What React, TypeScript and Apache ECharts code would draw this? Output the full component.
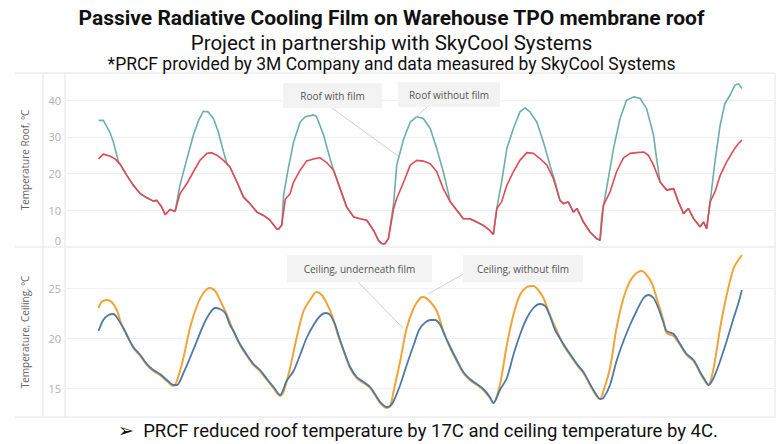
import React, { useEffect, useRef } from "react";
import * as echarts from "echarts";

// hours since start of measurement, temperature in °C
const roofWithFilm: [number, number][] = [[0.1,24],[1.2,25.3],[2.8,24.7],[3.9,24],[5.1,22.5],[6.6,19.5],[8.1,16.8],[9.7,14.5],[11.2,13.4],[12.7,12.5],[13.5,12.7],[14.6,10.9],[15.4,8.8],[16.5,10.2],[17.7,9.7],[18.8,14.5],[20.4,17.3],[21.9,20.5],[23.4,23.6],[25.0,25.5],[26.1,25.7],[27.3,25],[28.8,23.6],[30.3,21.8],[31.9,17.7],[33.4,13.6],[34.9,11.8],[36.5,9.5],[38.0,8.6],[39.5,7.3],[41.0,5],[41.4,4.8],[42.2,6],[43.0,13],[44.1,14.5],[44.9,17.7],[46.4,20.9],[47.9,23.4],[49.5,24],[51.0,24.3],[52.5,23],[54.1,20.9],[55.6,15.9],[57.1,10.9],[58.7,8.2],[60.2,7.7],[61.7,7.3],[63.3,4.5],[64.4,1.8],[65.2,0.9],[65.9,0.9],[66.7,2.3],[67.9,10.5],[68.6,13.2],[70.2,17.7],[71.7,22.3],[73.2,23.6],[74.7,23.4],[76.3,22.7],[77.8,20.5],[79.3,15.9],[80.9,12.3],[82.4,10],[83.9,7.7],[85.4,7.7],[87.0,6.8],[88.5,5.9],[90.0,4.5],[90.8,3.4],[91.6,10.5],[92.7,12.3],[93.9,16.8],[95.4,20.5],[96.9,23.6],[98.5,25.7],[100.0,25.5],[101.5,24.1],[103.1,22.3],[104.6,18.6],[106.1,12.7],[106.9,11.8],[108.0,12.3],[109.2,9.5],[110.0,10.5],[111.5,6.8],[113.0,4.1],[114.5,2.3],[115.3,1.8],[116.1,11.4],[117.6,15],[119.1,20.5],[120.7,24.3],[122.2,25.5],[123.7,25.7],[125.3,25.9],[126.4,25],[127.6,22.3],[129.1,17.7],[130.6,15.5],[132.2,15.9],[133.3,12.3],[134.5,9.1],[135.6,10.5],[136.8,7.7],[138.3,5.5],[139.1,6.8],[139.8,5],[140.6,12.3],[141.7,15],[142.9,19.5],[144.4,23.2],[146.0,26.4],[147.1,28.2],[147.9,29.1]];

const roofWithoutFilm: [number, number][] = [[0.1,34.5],[1.2,34.5],[2.8,31],[3.5,28.6],[4.7,23.2],[5.1,22.5],[6.6,19.5],[8.1,16.8],[9.7,14.5],[11.2,13.4],[12.7,12.5],[13.5,12.7],[14.6,10.9],[15.4,8.8],[16.5,10.2],[17.7,9.7],[18.8,16.8],[20.4,24],[21.9,30.5],[23.1,34.5],[24.2,37],[25.3,36.8],[26.5,35],[27.6,31.4],[28.8,26],[29.6,22.7],[30.3,21.8],[31.9,17.7],[33.4,13.6],[34.9,11.8],[36.5,9.5],[38.0,8.6],[39.5,7.3],[41.0,5],[41.4,4.8],[42.2,6],[42.6,14],[43.7,21.4],[44.9,28.6],[46.4,34],[47.6,35.5],[49.5,36],[50.2,35.5],[51.8,30.5],[53.3,24],[54.1,20.9],[55.6,15.9],[57.1,10.9],[58.7,8.2],[60.2,7.7],[61.7,7.3],[63.3,4.5],[64.4,1.8],[65.2,0.9],[65.9,0.9],[66.7,2.3],[67.9,12],[68.6,22.3],[70.2,29.5],[71.7,34],[73.2,35.5],[74.7,35],[76.3,32.3],[77.8,26.8],[79.3,20.5],[80.1,16.5],[80.9,12.3],[82.4,10],[83.9,7.7],[85.4,7.7],[87.0,6.8],[88.5,5.9],[90.0,4.5],[90.8,3.4],[91.6,10.5],[92.7,17.7],[93.9,26.8],[95.4,32.3],[96.9,36.8],[98.1,37.9],[99.2,36.8],[100.8,34],[102.3,28.6],[103.8,22.3],[105.0,17.7],[106.1,12.7],[106.9,11.8],[108.0,12.3],[109.2,9.5],[110.0,10.5],[111.5,6.8],[113.0,4.1],[114.5,2.3],[115.3,1.8],[115.7,8.6],[116.8,15.9],[118.4,26.8],[119.9,35],[121.4,40],[123.0,40.9],[124.5,40.5],[126.0,37.7],[127.6,30.5],[128.3,24.1],[129.1,17.7],[130.6,15.5],[132.2,15.9],[133.3,12.3],[134.5,9.1],[135.6,10.5],[136.8,7.7],[138.3,5.5],[139.1,6.8],[139.8,5],[140.6,12.3],[141.7,23.2],[142.9,33.2],[144.0,39.1],[145.2,41.4],[146.3,44.1],[147.1,44.5],[147.9,43.2]];

const ceilingWithoutFilm: [number, number][] = [[0.1,23],[0.8,23.6],[2.0,23.8],[3.1,23.6],[4.3,22.8],[5.4,21.3],[6.6,20.3],[8.1,19],[9.7,18.2],[11.2,17.3],[12.7,16.7],[14.2,16.3],[15.8,15.7],[17.3,15.2],[18.1,15.7],[19.6,18],[21.1,21],[22.7,23.2],[24.2,24.5],[25.7,25],[26.9,24.7],[28.0,23.8],[29.6,22.3],[31.1,20.7],[32.6,19.3],[34.2,18.2],[35.7,17.3],[37.2,16.7],[38.8,15.8],[40.3,15],[41.8,14.2],[42.6,14.6],[44.1,17],[45.6,20],[47.2,22.7],[48.7,23.8],[50.2,24.6],[51.4,24.3],[52.5,23.5],[53.7,22.3],[54.8,20.7],[56.4,18.7],[57.9,17],[59.4,16],[61.0,15.5],[62.5,15],[63.6,14.3],[64.8,13.5],[66.3,13],[67.1,13.2],[67.9,14.7],[69.4,17.7],[70.9,21],[72.5,23],[74.0,24],[74.7,24.1],[75.9,23.8],[77.8,22.7],[79.3,20.7],[80.9,19],[82.4,17.7],[83.9,16.5],[85.4,15.8],[87.0,15.3],[88.5,14.8],[90.0,14],[90.8,13.5],[92.3,15.3],[93.9,19.3],[95.4,22.3],[96.9,24.3],[98.5,25.1],[100.0,25.2],[101.1,24.8],[102.3,24],[103.8,22.3],[105.4,20.7],[106.9,19.3],[108.4,18.3],[110.0,17.3],[111.5,16.5],[113.0,15.3],[114.5,14.2],[115.3,13.9],[116.1,14.7],[117.6,17],[119.1,21],[120.7,24],[122.2,25.7],[123.7,26.5],[124.9,26.7],[126.0,26.3],[127.2,25.5],[128.3,24],[129.9,21.7],[130.6,20.5],[132.2,20.2],[133.7,19.3],[135.2,18.3],[136.8,17.7],[138.3,16.5],[139.4,15.7],[140.2,15.3],[141.4,17],[142.9,21],[144.4,24.3],[146.0,27],[147.1,27.8],[147.9,28.3]];

const ceilingUnderFilm: [number, number][] = [[0.1,20.7],[1.2,21.8],[2.4,22.3],[3.5,22.4],[4.7,21.8],[5.8,21],[6.6,20.3],[8.1,19.1],[9.7,18.3],[11.2,17.4],[12.7,16.8],[14.2,16.4],[15.8,15.8],[17.3,15.3],[18.1,15.3],[19.6,16.5],[21.1,18],[22.7,19.7],[24.2,21.3],[25.7,22.5],[26.9,23],[28.0,22.9],[29.2,22.5],[30.3,21.3],[31.1,20.7],[32.6,19.4],[34.2,18.3],[35.7,17.4],[37.2,16.8],[38.8,15.9],[40.3,15.1],[41.8,14.3],[43.3,15.7],[44.9,16.7],[46.4,18.3],[47.9,20],[49.5,21.3],[51.0,22.2],[52.2,22.5],[53.3,22.3],[54.5,21.3],[55.2,20.3],[56.4,18.8],[57.9,17.1],[59.4,16.1],[61.0,15.6],[62.5,15.1],[63.6,14.4],[64.8,13.6],[66.3,13.1],[67.1,13.2],[67.9,13.7],[69.4,15.3],[70.9,17.3],[72.5,19.3],[74.0,21],[76.3,21.8],[77.4,21.8],[78.6,21.3],[79.7,20.2],[80.9,19.1],[82.4,17.8],[83.9,16.6],[85.4,15.9],[87.0,15.4],[88.5,14.9],[90.0,14.1],[90.8,13.5],[92.3,14.8],[93.9,16],[95.4,18.3],[96.9,20.3],[98.5,22],[100.0,23],[101.5,23.4],[102.7,23.2],[103.8,22.2],[105.0,20.8],[106.9,19.4],[108.4,18.4],[110.0,17.4],[111.5,16.6],[113.0,15.4],[114.5,14.3],[115.3,13.9],[116.1,14],[117.6,15.3],[119.1,17.7],[120.7,19.7],[122.2,21.3],[123.7,22.7],[125.3,24],[126.4,24.3],[127.6,24],[128.7,23],[129.9,21.5],[130.6,20.7],[132.2,20.4],[133.7,19.4],[135.2,18.4],[136.8,17.8],[138.3,16.6],[139.4,15.8],[140.2,15.3],[141.4,16],[142.9,17.7],[144.4,19.7],[146.0,22],[147.1,23.5],[147.9,24.8]];

const titleLines = [
  "Passive Radiative Cooling Film on Warehouse TPO membrane roof",
  "Project in partnership with SkyCool Systems",
  "*PRCF provided by 3M Company and data measured by SkyCool Systems",
];
const footnote = "\u27A2  PRCF reduced roof temperature by 17C and ceiling temperature by 4C.";
const roofAxisName = "Temperature Roof, \u00BAC";
const ceilingAxisName = "Temperature, Ceiling, \u00BAC";
const labels = {
  roofWith: "Roof with film",
  roofWithout: "Roof without film",
  ceilUnder: "Ceiling, underneath film",
  ceilWithout: "Ceiling, without film",
};

const FONT = "Roboto";
const SMALL = "Open Sans";
const frame = "#e4e4e4";

function note(x: number, y: number, w: number, h: number, text: string) {
  return [
    { type: "rect", shape: { x, y, width: w, height: h }, style: { fill: "#f3f3f3" }, z: 10 },
    {
      type: "text", x: x + w / 2, y: y + h / 2, z: 11,
      style: { text, fill: "#555", font: `10px "${SMALL}"`, align: "center", verticalAlign: "middle" },
    },
  ];
}
function leader(x1: number, y1: number, x2: number, y2: number) {
  return { type: "line", shape: { x1, y1, x2, y2 }, style: { stroke: "#cfcfcf", lineWidth: 1 }, z: 9 };
}
function fline(x1: number, y1: number, x2: number, y2: number) {
  return { type: "line", shape: { x1, y1, x2, y2 }, style: { stroke: frame, lineWidth: 1 }, z: 0, silent: true };
}

export default function App() {
  const ref = useRef<HTMLDivElement>(null);
  useEffect(() => {
    document.body.style.margin = "0";
    const chart = echarts.init(ref.current!, null, { renderer: "svg" });
    const tickLabel = { color: "#b0b0b0", fontSize: 11, fontFamily: SMALL, margin: 4 };
    chart.setOption({
      animation: false,
      backgroundColor: "#ffffff",
      title: [
        { text: titleLines[0], left: "center", top: 7, padding: 0, textStyle: { fontFamily: FONT, fontWeight: "bold", fontSize: 21, color: "#111" } },
        { text: titleLines[1], left: "center", top: 32, padding: 0, textStyle: { fontFamily: FONT, fontWeight: "normal", fontSize: 20.5, color: "#111" } },
        { text: titleLines[2], left: "center", top: 55, padding: 0, textStyle: { fontFamily: FONT, fontWeight: "normal", fontSize: 17.5, color: "#111" } },
        { text: footnote, left: 118, top: 421, padding: 0, textStyle: { fontFamily: FONT, fontWeight: "normal", fontSize: 18.5, color: "#111" } },
      ],
      grid: [
        { left: 65, right: 8, top: 73, height: 174 },
        { left: 65, right: 8, top: 247, height: 170 },
      ],
      xAxis: [
        { type: "value", gridIndex: 0, min: -7.6, max: 155.5, show: false },
        { type: "value", gridIndex: 1, min: -7.6, max: 155.5, show: false },
      ],
      yAxis: [
        {
          type: "value", gridIndex: 0, min: 0, max: 47.4, interval: 10,
          name: roofAxisName, nameLocation: "middle", nameGap: 35,
          nameTextStyle: { color: "#666", fontSize: 10, fontFamily: SMALL },
          axisLine: { show: false }, axisTick: { show: false },
          splitLine: { lineStyle: { color: "#f0f0f0" } },
          axisLabel: {
            ...tickLabel,
            formatter: (v: number) => (v === 0 ? "{z|0}" : v % 10 === 0 ? String(v) : ""),
            rich: { z: { color: "#b0b0b0", fontSize: 11, fontFamily: SMALL, padding: [0, 0, 14, 0] } },
          },
        },
        {
          type: "value", gridIndex: 1, min: 12.1, max: 29.1, splitNumber: 3,
          name: ceilingAxisName, nameLocation: "middle", nameGap: 35,
          nameTextStyle: { color: "#666", fontSize: 10, fontFamily: SMALL },
          axisLine: { show: false }, axisTick: { show: false },
          splitLine: { lineStyle: { color: "#f0f0f0" } },
          axisLabel: { ...tickLabel, formatter: (v: number) => (Math.abs(v % 5) < 1e-6 ? String(v) : "") },
        },
      ],
      series: [
        { type: "line", name: labels.roofWithout, xAxisIndex: 0, yAxisIndex: 0, data: roofWithoutFilm, showSymbol: false, lineStyle: { color: "#6aafa8", width: 1.6 }, itemStyle: { color: "#6aafa8" } },
        { type: "line", name: labels.roofWith, xAxisIndex: 0, yAxisIndex: 0, data: roofWithFilm, showSymbol: false, lineStyle: { color: "#e04a55", width: 1.6 }, itemStyle: { color: "#e04a55" } },
        { type: "line", name: labels.ceilWithout, xAxisIndex: 1, yAxisIndex: 1, data: ceilingWithoutFilm, smooth: 0.3, showSymbol: false, lineStyle: { color: "#f2a33a", width: 2 }, itemStyle: { color: "#f2a33a" } },
        { type: "line", name: labels.ceilUnder, xAxisIndex: 1, yAxisIndex: 1, data: ceilingUnderFilm, smooth: 0.3, showSymbol: false, lineStyle: { color: "#4e79a7", width: 1.8 }, itemStyle: { color: "#4e79a7" } },
      ],
      graphic: [
        fline(15, 73, 775, 73),
        fline(15, 247, 775, 247),
        fline(15, 417, 775, 417),
        fline(43, 73, 43, 417),
        fline(65, 73, 65, 417),
        fline(775, 73, 775, 417),
        leader(332, 108, 398, 156),
        leader(427, 107, 416, 117),
        leader(358, 282, 403, 328),
        leader(467, 272, 428, 294),
        ...note(283, 83, 99, 25, labels.roofWith),
        ...note(398, 82, 102, 25, labels.roofWithout),
        ...note(287, 255, 145, 27, labels.ceilUnder),
        ...note(463, 255, 120, 27, labels.ceilWithout),
      ],
    });
    return () => chart.dispose();
  }, []);
  return <div ref={ref} style={{ width: 783, height: 444 }} />;
}
